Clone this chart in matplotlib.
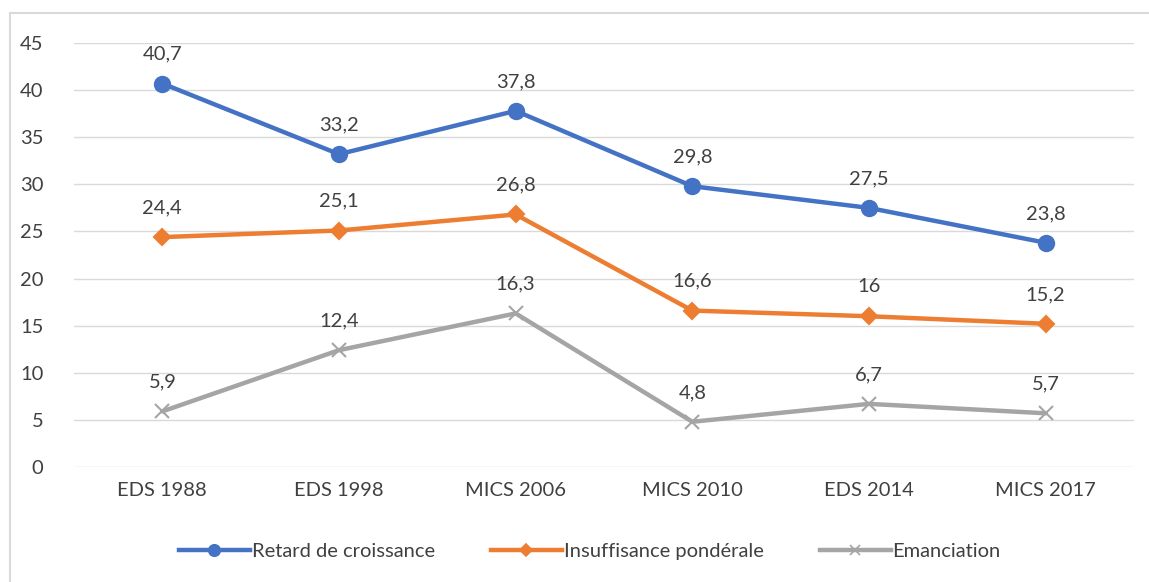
import matplotlib.pyplot as plt
from matplotlib.lines import Line2D

plt.rcParams['font.family'] = ['Lato', 'DejaVu Sans']

categories = ['EDS 1988', 'EDS 1998', 'MICS 2006', 'MICS 2010', 'EDS 2014', 'MICS 2017']
retard = [40.7, 33.2, 37.8, 29.8, 27.5, 23.8]
insuffisance = [24.4, 25.1, 26.8, 16.6, 16.0, 15.2]
emanciation = [5.9, 12.4, 16.3, 4.8, 6.7, 5.7]
labels_retard = ['40,7', '33,2', '37,8', '29,8', '27,5', '23,8']
labels_insuff = ['24,4', '25,1', '26,8', '16,6', '16', '15,2']
labels_eman = ['5,9', '12,4', '16,3', '4,8', '6,7', '5,7']

txt = '#404040'
fs = 14.5
fig = plt.figure(figsize=(11.49, 5.82), dpi=100)
ax = fig.add_axes([74/1149, 1-467/582, 1060/1149, 424/582])

x = range(len(categories))
series = [
    (retard, labels_retard, '#4472C4', 'o', 11, 'Retard de croissance'),
    (insuffisance, labels_insuff, '#ED7D31', 'D', 8, 'Insuffisance pondérale'),
    (emanciation, labels_eman, '#A5A5A5', 'x', 10, 'Emanciation'),
]
for vals, labs, col, mk, ms, name in series:
    ax.plot(x, vals, color=col, lw=3.2, marker=mk, ms=ms, mew=1.5,
            label=name, solid_capstyle='round', zorder=3)
    for xi, v, l in zip(x, vals, labs):
        ax.annotate(l, (xi, v), xytext=(0, 15), textcoords='offset points',
                    ha='center', va='bottom', fontsize=fs, color=txt)

ax.set_xlim(-0.5, len(categories) - 0.5)
ax.set_ylim(0, 45)
ax.set_yticks(range(0, 46, 5))
ax.set_xticks(list(x))
ax.set_xticklabels(categories)
ax.tick_params(axis='both', length=0, labelsize=fs, labelcolor=txt)
ax.tick_params(axis='y', pad=22)
ax.tick_params(axis='x', pad=11)
ax.grid(axis='y', color='#D9D9D9', lw=1)
ax.set_axisbelow(True)
for s in ax.spines.values():
    s.set_visible(False)

handles = [Line2D([], [], color=c, lw=3.2, marker=m, ms=ms * 0.75, mew=1.2) for _, _, c, m, ms, _ in series]
fig.legend(handles, [s[5] for s in series], loc='center', bbox_to_anchor=(590/1149, 1-551/582),
           ncol=3, frameon=False, fontsize=fs, labelcolor=txt, handlelength=3.5,
           handletextpad=0.1, columnspacing=2.8)

fig.add_artist(plt.Rectangle((10/1149, -0.1), 1.2, 1-13/582+0.1, transform=fig.transFigure,
                             fill=False, ec='#D9D9D9', lw=1.5))

fig.savefig('out.png', dpi=100)
